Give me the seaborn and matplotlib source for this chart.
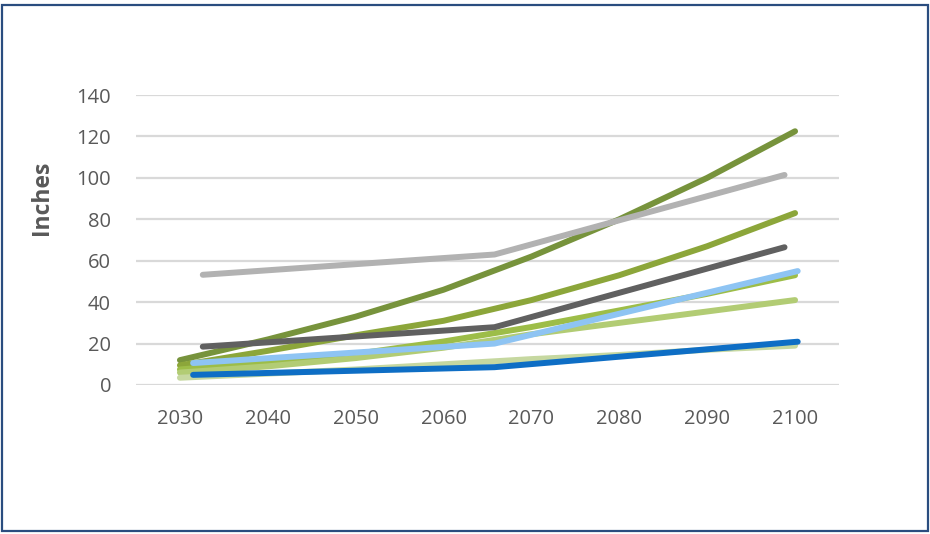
import matplotlib
matplotlib.use("Agg")
import matplotlib.pyplot as plt
from matplotlib.patches import Rectangle
import seaborn as sns
import pandas as pd

# Decadal projections (inches)
decades = [2030, 2040, 2050, 2060, 2070, 2080, 2090, 2100]
high = [12, 22, 33, 46, 62, 80, 100, 122.5]
intermediate_high = [9.5, 16.5, 24, 31, 41, 53, 67, 83]
intermediate = [7.5, 11, 15, 21, 28, 36, 44, 53]
intermediate_low = [6, 9, 13, 18, 24.5, 30, 35.5, 41]
low = [3.5, 5.5, 7.5, 10, 12.5, 14.5, 17, 19]

# Three-point projections
gray_years = [2032.6, 2065.8, 2098.8]
extreme = [53.2, 63.0, 101.4]
moderate = [18.5, 27.9, 66.5]
blue_years = [2031.5, 2065.8, 2100.3]
upper_range = [10.6, 20.0, 55.0]
lower_range = [4.9, 8.6, 20.9]

series = [
    ("High", decades, high, "#77933C"),
    ("Intermediate-high", decades, intermediate_high, "#8CA63A"),
    ("Intermediate", decades, intermediate, "#9DBD48"),
    ("Intermediate-low", decades, intermediate_low, "#B2CC74"),
    ("Low", decades, low, "#C6D8A0"),
    ("Extreme", gray_years, extreme, "#B2B2B2"),
    ("Moderate", gray_years, moderate, "#606060"),
    ("Upper range", blue_years, upper_range, "#8EC4F3"),
    ("Lower range", blue_years, lower_range, "#0E6EC5"),
]

rows = []
for name, xs, ys, _ in series:
    for x, y in zip(xs, ys):
        rows.append({"year": x, "inches": y, "series": name})
df = pd.DataFrame(rows)
palette = {name: c for name, _, _, c in series}

sns.set_theme(style="white")
plt.rcParams["font.family"] = ["Open Sans", "DejaVu Sans"]

fig = plt.figure(figsize=(9.30, 5.34), dpi=100)
ax = fig.add_axes([136 / 930, 1 - 385 / 534, (839 - 136) / 930, (385 - 95) / 534])

sns.lineplot(data=df, x="year", y="inches", hue="series", palette=palette,
             hue_order=[s[0] for s in series], estimator=None, sort=False,
             linewidth=4.3, legend=False, ax=ax)
for line in ax.get_lines():
    line.set_solid_capstyle("round")
    line.set_solid_joinstyle("round")
    line.set_zorder(3)

ax.set_xlim(2025, 2105)
ax.set_ylim(0, 140)
ax.set_xticks(decades)
ax.set_yticks(range(0, 141, 20))
ax.yaxis.grid(True, color="#D9D9D9", linewidth=1.6)
ax.set_axisbelow(True)
for side in ["top", "right", "left", "bottom"]:
    ax.spines[side].set_visible(False)
ax.tick_params(axis="both", length=0, labelsize=14.5, labelcolor="#595959")
ax.tick_params(axis="y", pad=18)
ax.tick_params(axis="x", pad=17)
ax.set_xlabel("")
ax.set_ylabel("")

fig.text(42 / 930, 1 - 198 / 534, "Inches", rotation=90, ha="center", va="center",
         fontsize=16.5, fontweight="bold", color="#595959")

fig.patches.append(Rectangle((2 / 930, 3 / 534), 926 / 930, 526 / 534,
                             transform=fig.transFigure, fill=False,
                             edgecolor="#2A4D7F", linewidth=1.6))

fig.savefig("out.png", dpi=100, facecolor="white")
